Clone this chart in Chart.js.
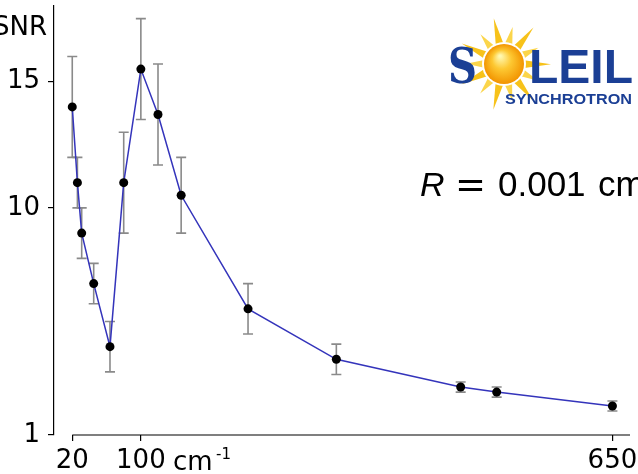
<!DOCTYPE html>
<html>
<head>
<meta charset="utf-8">
<script src="https://cdn.jsdelivr.net/npm/chart.js@4.4.1/dist/chart.umd.min.js"></script>
<style>
  html, body { margin: 0; padding: 0; background: #fff; }
  canvas { display: block; }
</style>
</head>
<body>
<canvas id="snrChart" width="638" height="474"></canvas>
<script>
// wavenumber (cm^-1), SNR and its uncertainty
const wavenumbers = [20, 26, 31, 45, 64, 80, 100, 120, 147, 225, 328, 473, 515, 650];
const snr         = [14.0, 11.0, 9.0, 7.0, 4.5, 11.0, 15.5, 13.7, 10.5, 6.0, 4.0, 2.9, 2.7, 2.15];
const snrErr      = [2.0, 1.0, 1.0, 0.8, 1.0, 2.0, 2.0, 2.0, 1.5, 1.0, 0.6, 0.2, 0.2, 0.2];
const xTicks = [20, 100, 650];
const yTicks = [1, 10, 15];

const tickFont = { family: 'DejaVu Sans', size: 26 };

// gray error bars with caps, drawn under the line
const errorBars = {
    id: 'errorBars',
    beforeDatasetsDraw(chart) {
        const { ctx, scales: { x, y } } = chart;
        ctx.save();
        ctx.strokeStyle = '#8a8a8a';
        ctx.lineWidth = 1.6;
        wavenumbers.forEach((w, i) => {
            const px = x.getPixelForValue(w);
            const top = y.getPixelForValue(snr[i] + snrErr[i]);
            const bot = y.getPixelForValue(snr[i] - snrErr[i]);
            ctx.beginPath();
            ctx.moveTo(px, top); ctx.lineTo(px, bot);
            ctx.moveTo(px - 5, top); ctx.lineTo(px + 5, top);
            ctx.moveTo(px - 5, bot); ctx.lineTo(px + 5, bot);
            ctx.stroke();
        });
        ctx.restore();
    }
};

// stretch a string between two x positions
function fitText(ctx, txt, x0, x1, base, font) {
    ctx.font = font;
    const w = ctx.measureText(txt).width;
    ctx.save();
    ctx.translate(x0, base);
    ctx.scale((x1 - x0) / w, 1);
    ctx.fillText(txt, 0, 0);
    ctx.restore();
}

function drawLogo(ctx) {
    const cx = 504, cy = 64;
    const blue = '#1b3f95';
    ctx.save();
    // sun rays
    const n = 14;
    for (let i = 0; i < n; i++) {
        const a = -Math.PI / 2 - 0.22 + i * 2 * Math.PI / n;
        const len = i % 2 ? 38 : 47;
        const half = 0.22;
        ctx.beginPath();
        ctx.moveTo(cx + Math.cos(a) * len, cy + Math.sin(a) * len);
        ctx.lineTo(cx + Math.cos(a - half) * 19, cy + Math.sin(a - half) * 19);
        ctx.lineTo(cx + Math.cos(a + half) * 19, cy + Math.sin(a + half) * 19);
        ctx.closePath();
        ctx.fillStyle = i % 2 ? '#fbd54a' : '#f7c21a';
        ctx.fill();
    }
    ctx.beginPath();
    ctx.arc(cx, cy, 22, 0, Math.PI * 2);
    ctx.fillStyle = '#fff';
    ctx.fill();
    const g = ctx.createRadialGradient(cx - 4, cy - 8, 1, cx, cy, 20);
    g.addColorStop(0, '#fff8b0');
    g.addColorStop(0.45, '#fdc832');
    g.addColorStop(1, '#f29400');
    ctx.beginPath();
    ctx.arc(cx, cy, 20, 0, Math.PI * 2);
    ctx.fillStyle = g;
    ctx.fill();

    // lettering
    ctx.fillStyle = blue;
    ctx.textBaseline = 'alphabetic';
    ctx.textAlign = 'left';
    fitText(ctx, 'S', 448, 477, 83, 'bold 48px "DejaVu Serif"');
    fitText(ctx, 'LEIL', 529, 633, 83, '600 48px "Liberation Sans"');
    fitText(ctx, 'SYNCHROTRON', 505, 632, 103.5, 'bold 15px "Liberation Sans"');
    ctx.restore();
}

// axis line trimmed to the tick range, titles and annotation
const decorations = {
    id: 'decorations',
    afterDraw(chart) {
        const { ctx, chartArea, scales: { x } } = chart;
        ctx.save();
        ctx.strokeStyle = '#000';
        ctx.lineWidth = 1.2;
        ctx.beginPath();
        ctx.moveTo(x.getPixelForValue(xTicks[0]), chartArea.bottom);
        ctx.lineTo(chartArea.right, chartArea.bottom);
        ctx.stroke();

        ctx.fillStyle = '#000';
        ctx.textBaseline = 'alphabetic';
        ctx.font = '26px "DejaVu Sans"';
        ctx.textAlign = 'right';
        ctx.fillText('SNR', 47, 35);

        ctx.textAlign = 'left';
        ctx.fillText('cm', 173, 470);
        ctx.font = '15px "DejaVu Sans"';
        ctx.fillText('-1', 216, 459);

        ctx.font = 'italic 34px "Liberation Sans"';
        ctx.fillText('R', 420, 196);
        ctx.font = '37px "DejaVu Sans"';
        ctx.fillText('=', 455, 197);
        ctx.font = '35px "Liberation Sans"';
        ctx.fillText('0.001', 498, 196);
        ctx.fillText('cm', 598, 196);
        ctx.font = '22px "Liberation Sans"';
        ctx.fillText('\u22121', 640, 180);
        ctx.restore();

        drawLogo(ctx);
    }
};

new Chart(document.getElementById('snrChart'), {
    type: 'line',
    data: {
        datasets: [{
            data: wavenumbers.map((w, i) => ({ x: w, y: snr[i] })),
            borderColor: '#3434bb',
            borderWidth: 1.5,
            pointRadius: 4.5,
            pointBackgroundColor: '#000',
            pointBorderWidth: 0,
            tension: 0
        }]
    },
    options: {
        responsive: false,
        animation: false,
        layout: { padding: { top: 6, right: 8, left: 0, bottom: 0 } },
        plugins: { legend: { display: false }, tooltip: { enabled: false } },
        scales: {
            x: {
                type: 'linear',
                min: -1.3,
                max: 670.5,
                afterBuildTicks: s => { s.ticks = xTicks.map(v => ({ value: v })); },
                afterFit: s => { s.height = 39; s.paddingLeft = 0; s.paddingRight = 0; },
                border: { display: false },
                grid: { drawOnChartArea: false, drawTicks: true, tickLength: 6, color: '#000', lineWidth: 1.2 },
                ticks: { font: tickFont, color: '#000', padding: 5, autoSkip: false, maxRotation: 0 }
            },
            y: {
                type: 'linear',
                min: 1,
                max: 18,
                afterBuildTicks: s => { s.ticks = yTicks.map(v => ({ value: v })); },
                afterFit: s => { s.width = 54; s.paddingTop = 0; s.paddingBottom = 0; },
                border: { display: true, color: '#000', width: 1.2 },
                grid: { drawOnChartArea: false, drawTicks: true, tickLength: 6, color: '#000', lineWidth: 1.2 },
                ticks: { font: tickFont, color: '#000', padding: 8, autoSkip: false }
            }
        }
    },
    plugins: [errorBars, decorations]
});
</script>
</body>
</html>
